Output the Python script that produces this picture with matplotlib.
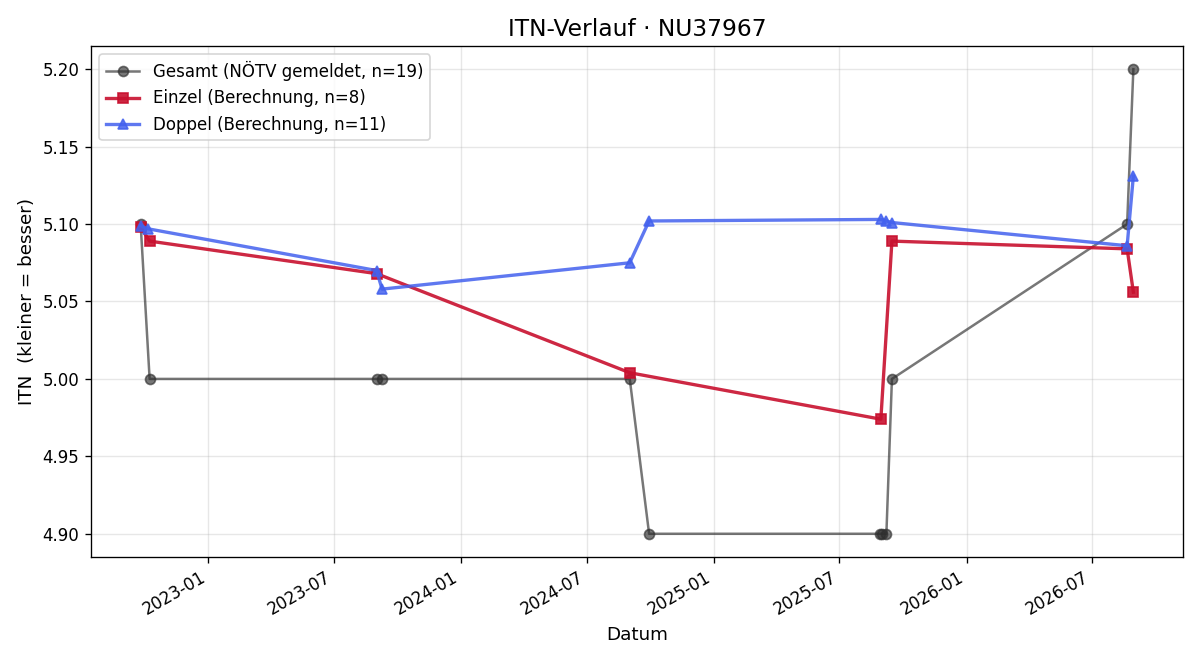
import matplotlib
matplotlib.use("Agg")
import matplotlib.pyplot as plt
import matplotlib.dates as mdates
import pandas as pd

gesamt_dates = ["2022-09-25", "2022-10-08", "2023-09-01", "2023-09-09", "2024-09-01",
                "2024-09-29", "2025-08-29", "2025-08-31", "2025-09-07", "2025-09-15",
                "2026-08-21", "2026-08-30"]
gesamt_vals = [5.10, 5.00, 5.00, 5.00, 5.00, 4.90, 4.90, 4.90, 4.90, 5.00, 5.10, 5.20]

einzel_dates = ["2022-09-25", "2022-10-08", "2023-09-01", "2024-09-01",
                "2025-08-30", "2025-09-15", "2026-08-21", "2026-08-30"]
einzel_vals = [5.098, 5.089, 5.068, 5.004, 4.974, 5.089, 5.084, 5.056]

doppel_dates = ["2022-09-25", "2022-10-05", "2023-09-01", "2023-09-09", "2024-09-01",
                "2024-09-29", "2025-08-30", "2025-09-07", "2025-09-15", "2026-08-21",
                "2026-08-30"]
doppel_vals = [5.099, 5.097, 5.070, 5.058, 5.075, 5.102, 5.103, 5.102, 5.101, 5.086, 5.131]

labels = ["Gesamt (NÖTV gemeldet, n=19)", "Einzel (Berechnung, n=8)",
          "Doppel (Berechnung, n=11)"]

fig, ax = plt.subplots(figsize=(10, 5.5), dpi=120)
ax.plot(pd.to_datetime(gesamt_dates), gesamt_vals, marker="o", color="#2e2e2e",
        alpha=0.65, linewidth=1.5, markersize=6, label=labels[0])
ax.plot(pd.to_datetime(einzel_dates), einzel_vals, marker="s", color="#c8102e",
        alpha=0.9, linewidth=2, markersize=6, label=labels[1])
ax.plot(pd.to_datetime(doppel_dates), doppel_vals, marker="^", color="#4361ee",
        alpha=0.85, linewidth=2, markersize=6, label=labels[2])

ax.set_title("ITN-Verlauf · NU37967", fontsize=14)
ax.set_xlabel("Datum", fontsize=11)
ax.set_ylabel("ITN  (kleiner = besser)", fontsize=11)
ax.grid(True, alpha=0.3)
ax.legend(loc="upper left", fontsize=10)
ax.xaxis.set_major_locator(mdates.MonthLocator(bymonth=[1, 7]))
ax.xaxis.set_major_formatter(mdates.DateFormatter("%Y-%m"))
ax.yaxis.set_major_formatter(matplotlib.ticker.FormatStrFormatter("%.2f"))
fig.autofmt_xdate()
fig.subplots_adjust(left=91/1200, right=1183/1200, top=1-46/660, bottom=1-557/660)
fig.savefig("out.png", dpi=120)
